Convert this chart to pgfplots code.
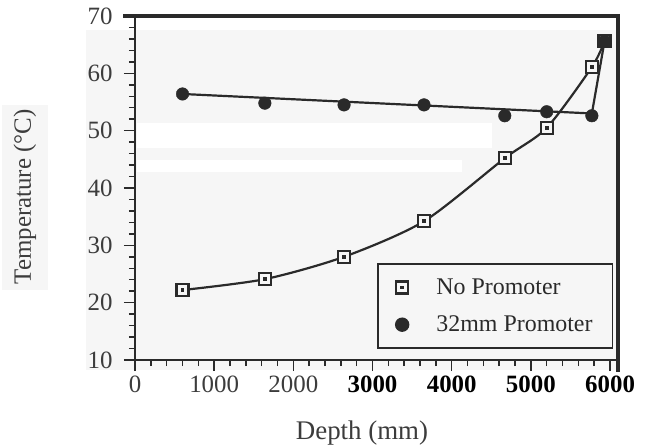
\documentclass[border=0pt]{standalone}
\usepackage{pgfplots}
\pgfplotsset{compat=1.18}
\usepackage{fontspec}
\setmainfont{Liberation Serif}
\definecolor{bg}{HTML}{F6F6F6}
\definecolor{ink}{HTML}{2A2A2A}
\definecolor{lab}{HTML}{3C3C3C}
\newcommand{\tl}[1]{{\fontsize{25}{28}\selectfont #1}}
\pgfdeclareplotmark{sqdot}{%
  \pgfpathrectangle{\pgfpoint{-\pgfplotmarksize}{-\pgfplotmarksize}}{\pgfpoint{2\pgfplotmarksize}{2\pgfplotmarksize}}%
  \pgfusepathqfillstroke
  \begin{pgfscope}%
  \pgfsetfillcolor{ink}%
  \pgfpathrectangle{\pgfpoint{-0.32\pgfplotmarksize}{-0.32\pgfplotmarksize}}{\pgfpoint{0.64\pgfplotmarksize}{0.64\pgfplotmarksize}}%
  \pgfusepath{fill}%
  \end{pgfscope}%
}
\begin{document}
\begin{tikzpicture}
\useasboundingbox (0bp,0bp) rectangle (648bp,448bp);
% scanned page background
\fill[bg] (86bp,78bp) rectangle (618bp,418bp);
\fill[white] (137bp,300bp) rectangle (492bp,325bp);
\fill[white] (137bp,276bp) rectangle (462bp,288bp);
\fill[bg] (2bp,158bp) rectangle (48bp,343bp);
\begin{axis}[
  at={(135bp,88bp)}, anchor=south west,
  scale only axis, width=483bp, height=344bp,
  xmin=0, xmax=6100, ymin=10, ymax=70,
  axis x line*=bottom, axis y line*=left,
  axis line style={line width=1.6bp, ink},
  xtick={0,1000,2000,3000,4000,5000,6000},
  xticklabels={\tl{\color{lab}0},\tl{\color{lab}1000},\tl{\color{lab}2000},\tl{\textbf{3000}},\tl{\textbf{4000}},\tl{\textbf{5000}},\tl{\textbf{6000}}},
  ytick={10,20,30,40,50,60,70},
  yticklabels={\tl{10},\tl{20},\tl{30},\tl{40},\tl{50},\tl{60},\tl{70}},
  minor x tick num=4, minor y tick num=4,
  tick align=outside,
  major tick length=11bp, minor tick length=6bp,
  every tick/.style={line width=1.5bp, ink},
  /pgf/number format/assume math mode=true,
  yticklabel style={lab, xshift=-8bp},
  xticklabel style={yshift=-1bp},
  xlabel={Depth {\color{lab}(mm)}},
  ylabel={Temperature (°C)},
  xlabel style={font=\fontsize{27}{30}\selectfont, lab, at={(axis description cs:0.47,-0.212)}, anchor=center},
  ylabel style={font=\fontsize{25}{29}\selectfont, lab, at={(axis description cs:-0.228,0.474)}, anchor=center},
  legend style={at={(0.501,0.282)}, anchor=north west, draw=ink, line width=1.8bp,
    fill=bg, font=\fontsize{24}{27}\selectfont, inner xsep=18bp, inner ysep=13bp, row sep=16bp,
    text=ink, /tikz/every odd column/.append style={column sep=26bp}},
  legend cell align=left,
  clip=false,
]
% fitted curves
\addplot[forget plot, ink, line width=2.2bp, smooth, tension=0.45] coordinates {
 (600,22.2) (1640,24.1) (2640,28.0) (3650,34.2) (4670,45.2) (5200,50.5) (5770,61.1) (5930,65.6)};
\addplot[forget plot, ink, line width=2.2bp] coordinates {
 (600,56.4) (5770,53.0) (5930,65.6)};
% data
\addplot[only marks, mark=sqdot, mark size=6bp, mark options={draw=ink, fill=bg, line width=2.4bp}] coordinates {
 (600,22.2) (1640,24.1) (2640,28.0) (3650,34.2) (4670,45.2) (5200,50.5) (5770,61.1) (5930,65.6)};
\addlegendentry{No Promoter}
\addplot[only marks, mark=*, mark size=6.3bp, mark options={draw=ink, fill=ink}] coordinates {
 (600,56.4) (1640,54.8) (2640,54.5) (3650,54.5) (4670,52.6) (5200,53.3) (5770,52.6) (5930,65.6)};
\addlegendentry{32mm Promoter}
\end{axis}
\draw[ink, line width=4bp] (123bp,432bp) -- (620bp,432bp);
\draw[ink, line width=4.5bp] (618bp,434bp) -- (618bp,76bp);
\end{tikzpicture}
\end{document}
